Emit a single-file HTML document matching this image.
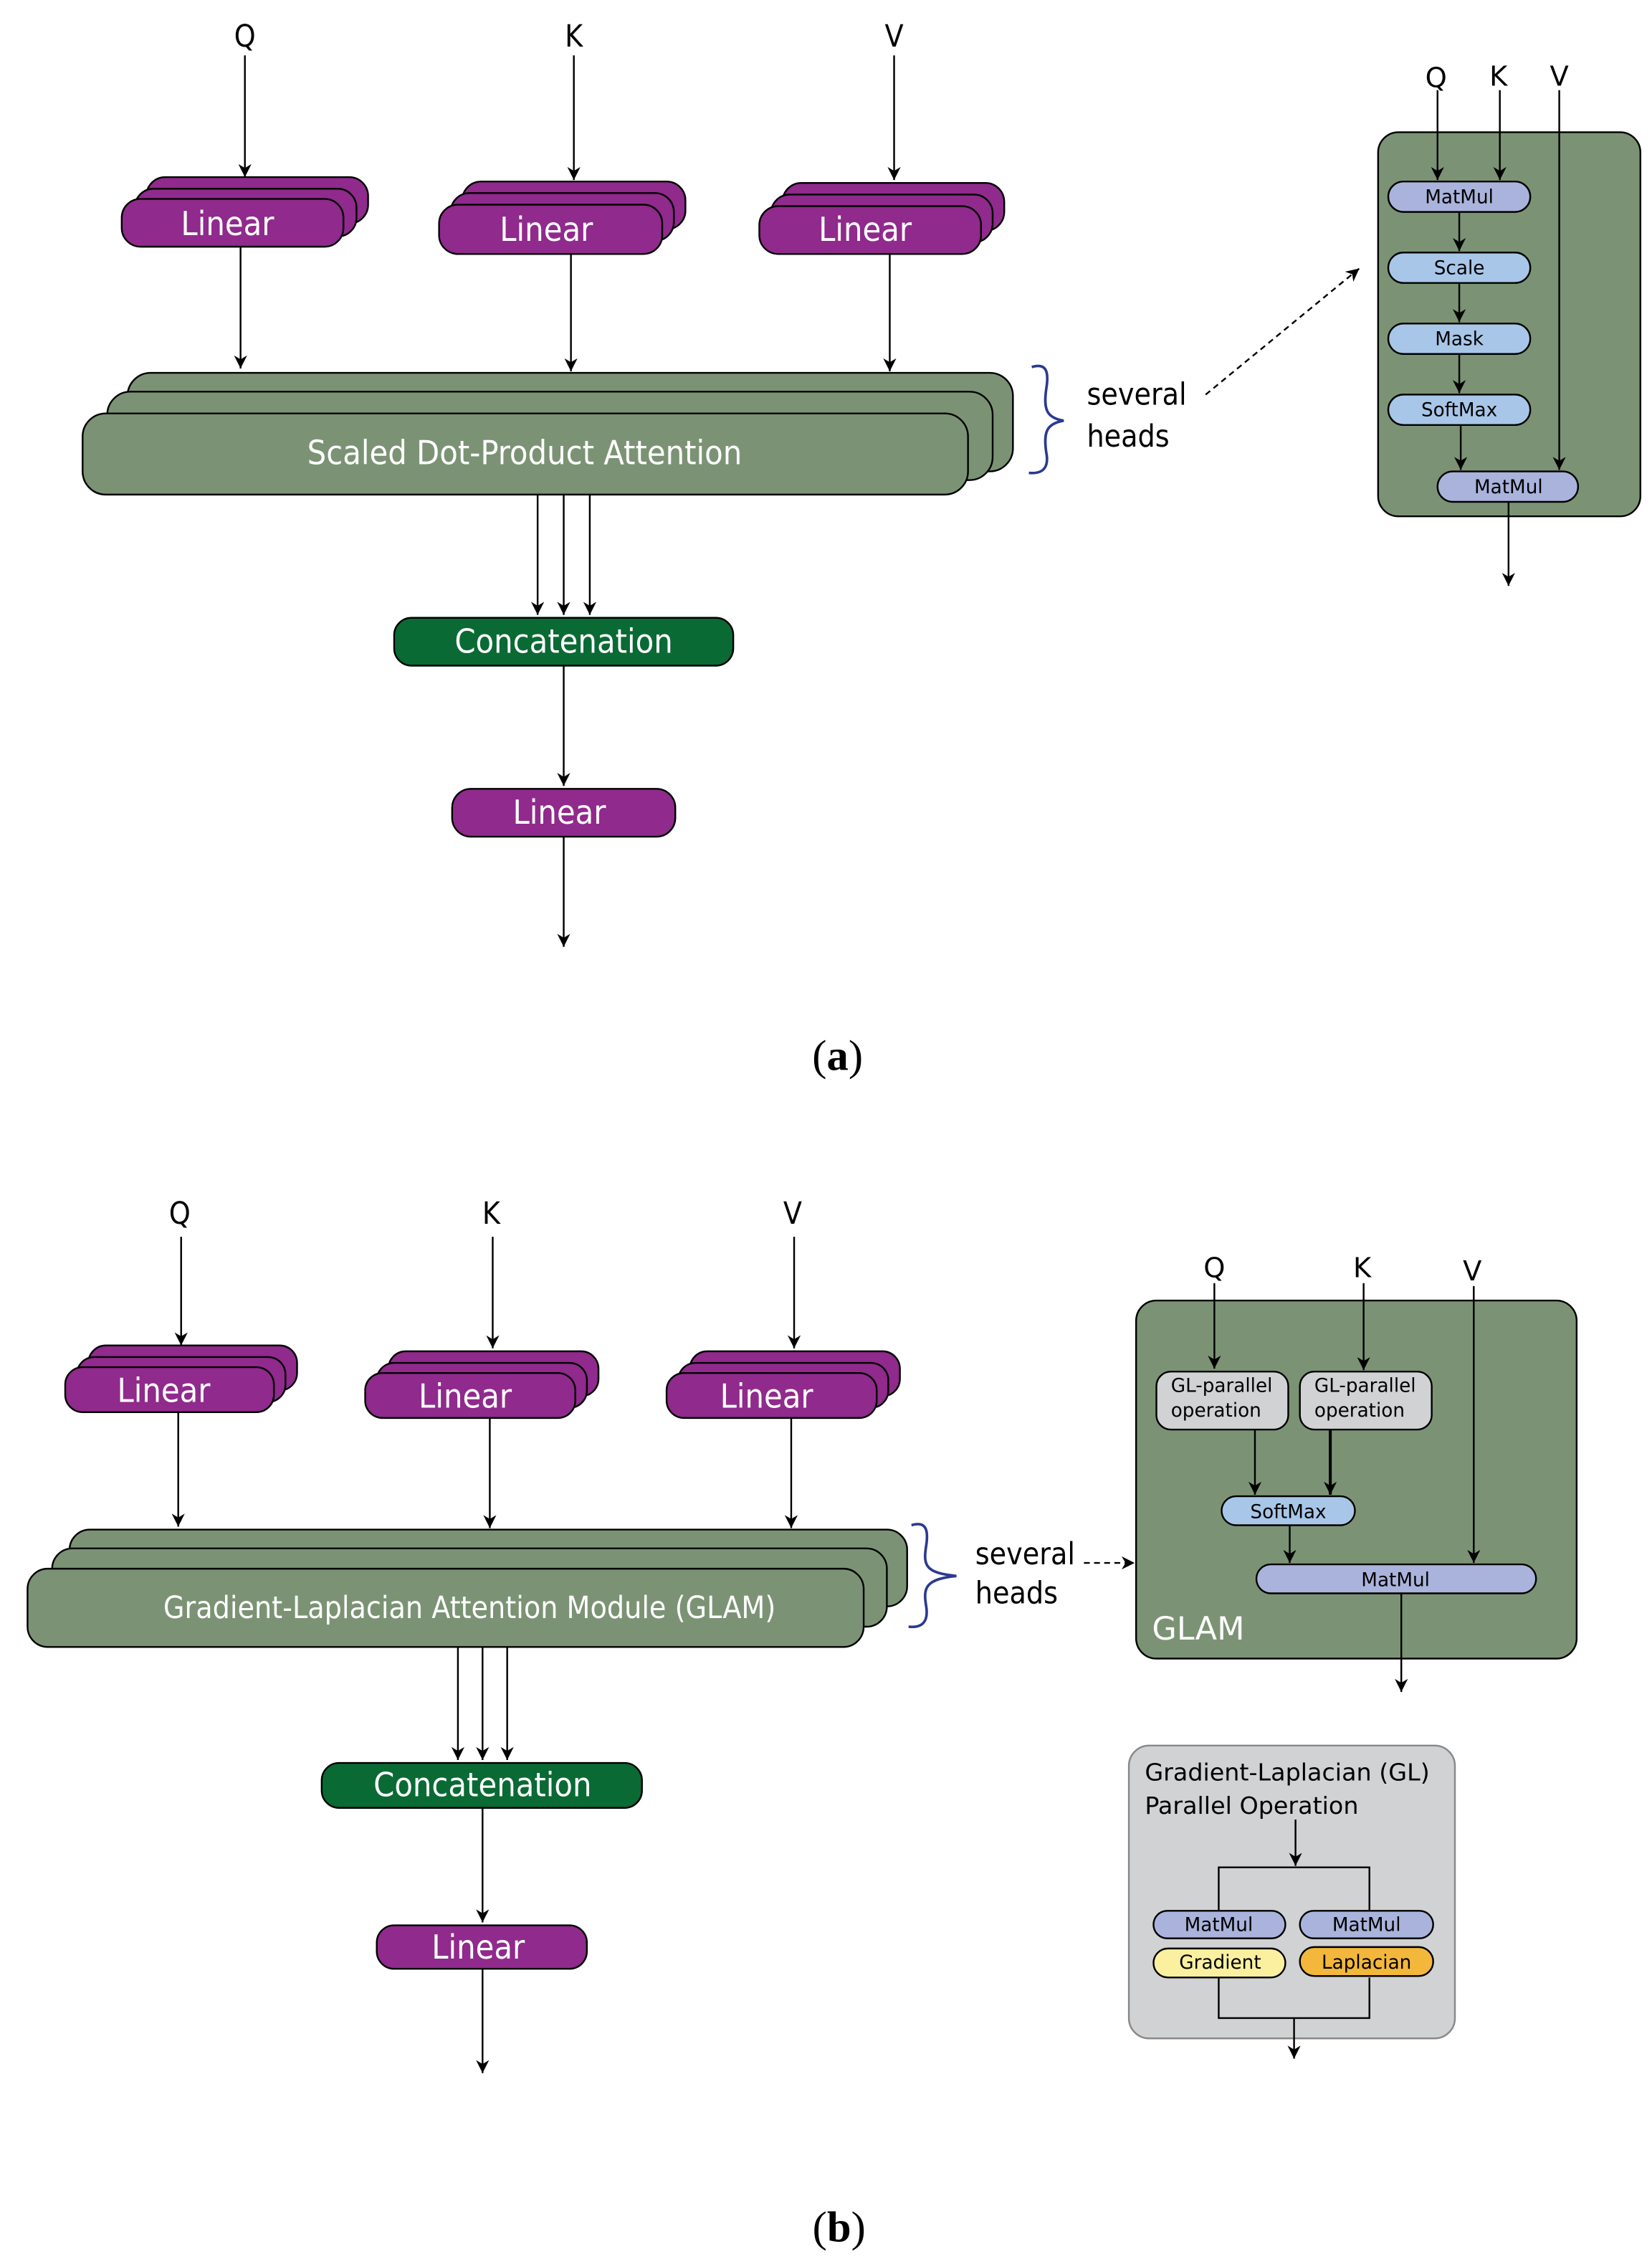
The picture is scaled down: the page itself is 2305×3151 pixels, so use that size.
<!DOCTYPE html>
<html><head><meta charset="utf-8"><style>
html,body{margin:0;padding:0;background:#fff}
svg{display:block}
.m{font-family:"Liberation Sans Narrow","DejaVu Sans Condensed","Liberation Sans",sans-serif}
.d{font-family:"DejaVu Sans","Liberation Sans",sans-serif}
</style></head><body>
<svg width="2305" height="3151" viewBox="0 0 1140 1558" xmlns="http://www.w3.org/2000/svg">
<defs>
<marker id="a" viewBox="0 0 10 10" refX="10" refY="5" markerWidth="9" markerHeight="9" markerUnits="userSpaceOnUse" orient="auto"><path d="M0,0 L10,5 L0,10 L3,5 z" fill="#000"/></marker>
</defs>

<!-- Linear stacks -->
<g fill="#902a8c" stroke="#000" stroke-width="1.2">
<rect x="101" y="122" width="153" height="32" rx="13"/><rect x="93" y="130" width="153" height="33" rx="13"/><rect x="84" y="137" width="153" height="33" rx="13"/>
<rect x="319" y="125" width="154" height="33" rx="13"/><rect x="311" y="133" width="154" height="33" rx="13"/><rect x="303" y="141" width="154" height="34" rx="13"/>
<rect x="540" y="126" width="153" height="33" rx="13"/><rect x="532" y="134" width="153" height="33" rx="13"/><rect x="524" y="142" width="153" height="33" rx="13"/>
<rect x="312" y="544" width="154" height="33" rx="13"/>
<rect x="61" y="928" width="144" height="31" rx="12"/><rect x="53" y="936" width="144" height="31" rx="12"/><rect x="45" y="943" width="144" height="31" rx="12"/>
<rect x="268" y="932" width="145" height="31" rx="12"/><rect x="260" y="940" width="145" height="31" rx="12"/><rect x="252" y="947" width="145" height="31" rx="12"/>
<rect x="476" y="932" width="145" height="31" rx="12"/><rect x="468" y="940" width="145" height="31" rx="12"/><rect x="460" y="947" width="145" height="31" rx="12"/>
<rect x="260" y="1328" width="145" height="30" rx="12"/>
</g>
<g fill="#7b9374" stroke="#000" stroke-width="1.2">
<rect x="88" y="257" width="611" height="68" rx="16"/><rect x="74" y="270" width="611" height="61" rx="16"/><rect x="57" y="285" width="611" height="56" rx="16"/>
<rect x="48" y="1055" width="578" height="53" rx="14"/><rect x="36" y="1068" width="576" height="54" rx="14"/><rect x="19" y="1082" width="577" height="54" rx="14"/>
<rect x="951" y="91" width="181" height="265" rx="14"/>
<rect x="784" y="897" width="304" height="247" rx="14"/>
</g>
<g fill="#0a6a34" stroke="#000" stroke-width="1.2">
<rect x="272" y="426" width="234" height="33" rx="12"/><rect x="222" y="1216" width="221" height="31" rx="12"/>
</g>
<rect x="779" y="1204" width="225" height="202" rx="14" fill="#d1d2d4" stroke="#888" stroke-width="1.2"/>

<g stroke="#000" stroke-width="1.2" fill="none" marker-end="url(#a)">
<line x1="169" y1="38" x2="169" y2="122"/><line x1="396" y1="38" x2="396" y2="124"/><line x1="617" y1="38" x2="617" y2="124"/>
<line x1="166" y1="170" x2="166" y2="254"/><line x1="394" y1="175" x2="394" y2="256"/><line x1="614" y1="175" x2="614" y2="256"/>
<line x1="371" y1="341" x2="371" y2="424"/><line x1="389" y1="341" x2="389" y2="424"/><line x1="407" y1="341" x2="407" y2="424"/>
<line x1="389" y1="459" x2="389" y2="542"/><line x1="389" y1="577" x2="389" y2="653"/>
<line x1="832" y1="272" x2="938" y2="185" stroke-dasharray="4,3"/>
<line x1="992" y1="62" x2="992" y2="124"/><line x1="1035" y1="62" x2="1035" y2="124"/>
<line x1="125" y1="853" x2="125" y2="928"/><line x1="340" y1="853" x2="340" y2="930"/><line x1="548" y1="853" x2="548" y2="930"/>
<line x1="123" y1="974" x2="123" y2="1053"/><line x1="338" y1="978" x2="338" y2="1054"/><line x1="546" y1="978" x2="546" y2="1054"/>
<line x1="316" y1="1136" x2="316" y2="1214"/><line x1="333" y1="1136" x2="333" y2="1214"/><line x1="350" y1="1136" x2="350" y2="1214"/>
<line x1="333" y1="1247" x2="333" y2="1326"/><line x1="333" y1="1358" x2="333" y2="1430"/>
<line x1="748" y1="1078" x2="783" y2="1078" stroke-dasharray="4,3"/>
</g>

<g class="m" font-size="21" text-anchor="middle" fill="#000">
<text x="169" y="32">Q</text><text x="396" y="32">K</text><text x="617" y="32">V</text>
<text x="124" y="844">Q</text><text x="339" y="844">K</text><text x="547" y="844">V</text>
</g>
<g class="m" font-size="23" fill="#fff" text-anchor="middle">
<text x="157" y="162">Linear</text><text x="377" y="166">Linear</text><text x="597" y="166">Linear</text>
<text x="362" y="320">Scaled Dot-Product Attention</text>
<text x="389" y="450">Concatenation</text><text x="386" y="568">Linear</text>
<text x="113" y="967">Linear</text><text x="321" y="971">Linear</text><text x="529" y="971">Linear</text>
<text x="324" y="1116" font-size="21">Gradient-Laplacian Attention Module (GLAM)</text>
<text x="333" y="1239">Concatenation</text><text x="330" y="1351">Linear</text>
</g>

<g fill="none" stroke="#2b3a8f" stroke-width="1.8">
<path d="M712,253 C722,250 724,256 722,268 C720,282 722,288 734,290 C722,292 720,298 722,312 C724,322 720,327 710,326"/>
<path d="M629,1052 C639,1049 641,1055 639,1067 C637,1080 639,1085 660,1087 C639,1089 637,1095 639,1107 C641,1118 637,1123 627,1122"/>
</g>
<g class="m" font-size="21" fill="#000">
<text x="750" y="279">several</text><text x="750" y="308">heads</text>
<text x="673" y="1079">several</text><text x="673" y="1106">heads</text>
</g>
<g font-family="'Liberation Serif',serif" font-size="30" fill="#000" text-anchor="middle">
<text x="578" y="738">(<tspan font-weight="bold">a</tspan>)</text>
<text x="579" y="1546">(<tspan font-weight="bold">b</tspan>)</text>
</g>

<!-- inset (a) -->
<g class="d" font-size="19" text-anchor="middle"><text x="991" y="60">Q</text><text x="1034" y="59">K</text><text x="1076" y="59">V</text></g>
<g stroke="#000" stroke-width="1.2" fill="none" marker-end="url(#a)">
<line x1="1076" y1="62" x2="1076" y2="324"/>
<line x1="1007" y1="146" x2="1007" y2="173"/><line x1="1007" y1="195" x2="1007" y2="222"/><line x1="1007" y1="244" x2="1007" y2="271"/>
<line x1="1008" y1="293" x2="1008" y2="324"/><line x1="1041" y1="346" x2="1041" y2="404"/>
</g>
<g stroke="#000" stroke-width="1.2">
<rect x="958" y="125" width="98" height="21" rx="10.5" fill="#aab3db"/>
<rect x="958" y="174" width="98" height="21" rx="10.5" fill="#a8c6e8"/>
<rect x="958" y="223" width="98" height="21" rx="10.5" fill="#a8c6e8"/>
<rect x="958" y="272" width="98" height="21" rx="10.5" fill="#a8c6e8"/>
<rect x="992" y="325" width="97" height="21" rx="10.5" fill="#aab3db"/>
</g>
<g class="d" font-size="13" text-anchor="middle" fill="#000">
<text x="1007" y="140">MatMul</text><text x="1007" y="189">Scale</text><text x="1007" y="238">Mask</text><text x="1007" y="287">SoftMax</text><text x="1041" y="340">MatMul</text>
</g>

<!-- GLAM inset -->
<g class="d" font-size="19" text-anchor="middle"><text x="838" y="881">Q</text><text x="940" y="881">K</text><text x="1016" y="883">V</text></g>
<g stroke="#000" stroke-width="1.2" fill="none" marker-end="url(#a)">
<line x1="838" y1="885" x2="838" y2="944"/><line x1="941" y1="885" x2="941" y2="945"/><line x1="1017" y1="887" x2="1017" y2="1078"/>
<line x1="866" y1="986" x2="866" y2="1031"/><line x1="918" y1="986" x2="918" y2="1031" stroke-width="2"/>
<line x1="890" y1="1052" x2="890" y2="1078"/><line x1="967" y1="1099" x2="967" y2="1167"/>
<line x1="894" y1="1255" x2="894" y2="1287"/><line x1="893" y1="1392" x2="893" y2="1420"/>
</g>
<g stroke="#000" stroke-width="1.2">
<rect x="798" y="946" width="91" height="40" rx="10" fill="#d1d2d4"/>
<rect x="897" y="946" width="91" height="40" rx="10" fill="#d1d2d4"/>
<rect x="843" y="1032" width="92" height="20" rx="10" fill="#a8c6e8"/>
<rect x="867" y="1079" width="193" height="20" rx="10" fill="#aab3db"/>
</g>
<g class="d" font-size="13" fill="#000">
<text x="808" y="960">GL-parallel</text><text x="808" y="977">operation</text>
<text x="907" y="960">GL-parallel</text><text x="907" y="977">operation</text>
<text x="889" y="1047" text-anchor="middle">SoftMax</text><text x="963" y="1094" text-anchor="middle">MatMul</text>
</g>
<text x="795" y="1131" class="d" font-size="22" fill="#fff">GLAM</text>

<g class="d" font-size="16.5" fill="#000"><text x="790" y="1228">Gradient-Laplacian (GL)</text><text x="790" y="1251">Parallel Operation</text></g>
<g fill="none" stroke="#000" stroke-width="1.2">
<path d="M841,1318 V1288 H945 V1318"/><path d="M841,1364 V1392 H945 V1364"/>
</g>
<g stroke="#000" stroke-width="1.2">
<rect x="796" y="1318" width="91" height="19" rx="9.5" fill="#aab3db"/>
<rect x="897" y="1318" width="92" height="19" rx="9.5" fill="#aab3db"/>
<rect x="796" y="1344" width="91" height="20" rx="10" fill="#fbf0a0"/>
<rect x="897" y="1343" width="92" height="20" rx="10" fill="#f3b73c"/>
</g>
<g class="d" font-size="13" text-anchor="middle" fill="#000">
<text x="841" y="1332">MatMul</text><text x="943" y="1332">MatMul</text>
<text x="842" y="1358">Gradient</text><text x="943" y="1358">Laplacian</text>
</g>
</svg>
</body></html>
